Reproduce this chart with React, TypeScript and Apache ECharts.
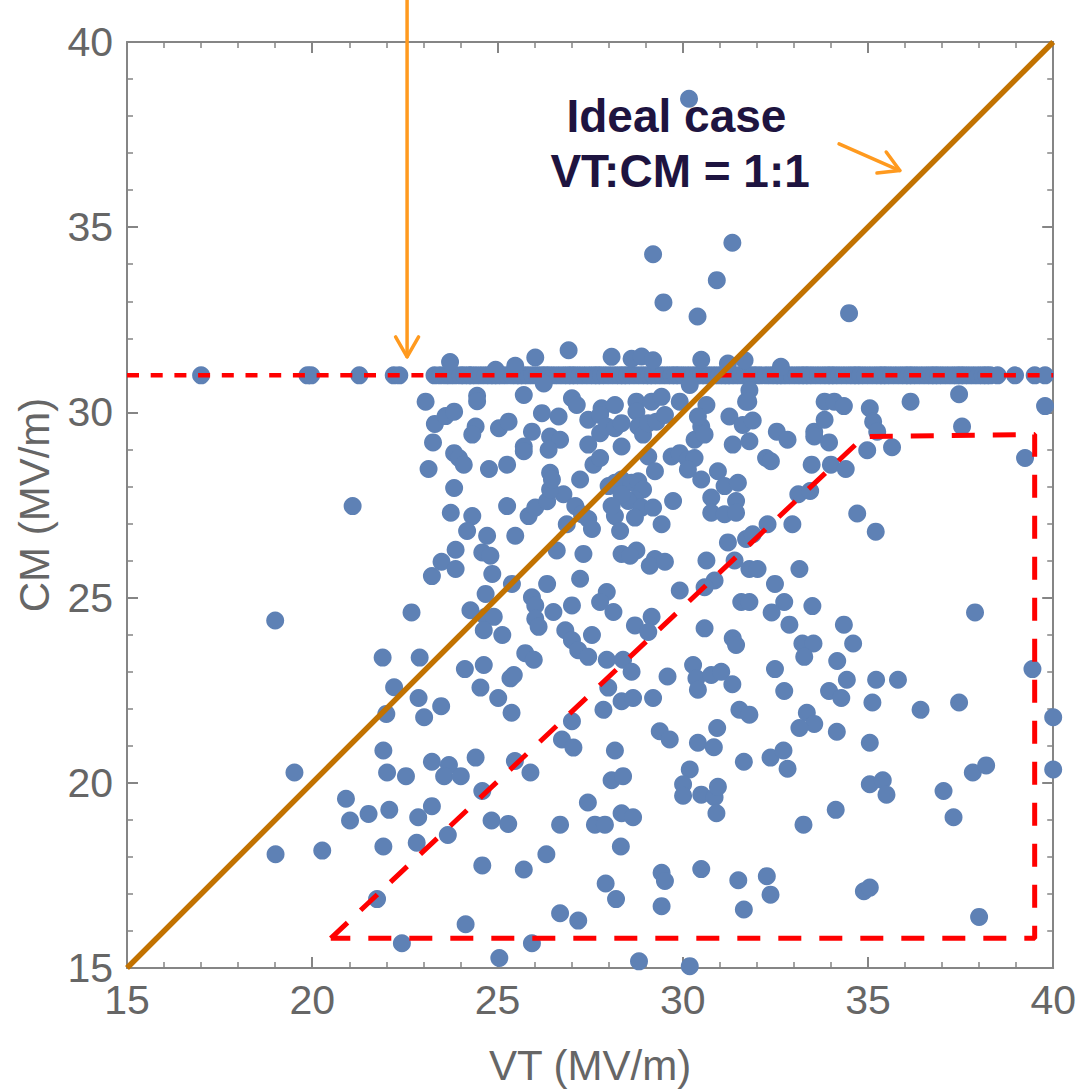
import React, { useEffect, useRef } from "react";
import * as echarts from "echarts";

// ---------- data (VT, CM in MV/m) ----------
const CAP_CM = 31;
// points sitting on the CM = 31 cap (isolated ones on the left, then the dense band)
const capIsolatedVT = [17.0, 19.87, 19.97, 21.27, 22.2, 22.35];
const capBandVT = [
  23.3, 23.45, 23.6, 23.72, 23.85, 24.0, 24.1, 24.22, 24.3, 24.42, 24.55, 24.68, 24.8, 24.9,
  25.0, 25.12, 25.25, 25.38, 25.5, 25.6, 25.7, 25.82, 25.95, 26.08, 26.2, 26.3, 26.4, 26.52,
  26.65, 26.78, 26.9, 27.0, 27.1, 27.22, 27.35, 27.48, 27.6, 27.7, 27.8, 27.92, 28.05, 28.18,
  28.3, 28.4, 28.5, 28.62, 28.75, 28.88, 29.0, 29.1, 29.2, 29.32, 29.45, 29.58, 29.7, 29.8,
  29.9, 30.02, 30.15, 30.28, 30.4, 30.5, 30.6, 30.72, 30.85, 30.98, 31.1, 31.2, 31.3, 31.42,
  31.55, 31.68, 31.8, 31.9, 32.0, 32.12, 32.25, 32.38, 32.5, 32.6, 32.7, 32.82, 32.95, 33.08,
  33.2, 33.3, 33.4, 33.52, 33.65, 33.78, 33.9, 34.0, 34.1, 34.22, 34.35, 34.48, 34.6, 34.7,
  34.8, 34.92, 35.05, 35.18, 35.3, 35.4, 35.5, 35.62, 35.75, 35.88, 36.0, 36.1, 36.2, 36.32,
  36.45, 36.58, 36.7, 36.8, 36.9, 37.02, 37.15, 37.28, 37.4, 37.5, 37.6, 37.72, 37.85, 37.98,
  38.1, 38.2, 38.3, 38.5, 38.97, 39.5, 39.78,
];
const upperPoints = [
  [30.17, 38.47], [29.2, 34.27], [31.34, 34.58], [29.48, 32.97], [30.92, 33.57], [30.4, 32.59],
  [34.49, 32.68],
];
const aboveCapPoints = [
  [23.72, 31.36], [24.95, 31.15], [25.48, 31.26], [26.02, 31.48], [26.92, 31.68], [28.08, 31.5],
  [28.62, 31.45], [28.89, 31.51], [29.2, 31.41], [30.5, 31.42], [31.22, 31.32], [31.67, 31.41],
  [32.65, 31.23],
];
const leftPoints = [
  [23.06, 30.29], [23.31, 29.69], [23.6, 29.9], [23.83, 30.02], [23.26, 29.19], [23.83, 28.9],
  [23.14, 28.47], [23.83, 27.96], [23.74, 27.29], [21.09, 27.47], [23.49, 25.97], [23.23, 25.58],
  [23.87, 25.77], [23.87, 26.29], [22.68, 24.6], [19.0, 24.38],
  [21.9, 23.38], [22.9, 23.38], [22.21, 22.58], [22.87, 22.29], [23.48, 22.07], [22.0, 21.86],
  [23.02, 21.77], [21.92, 20.87], [19.52, 20.28], [22.02, 20.28], [22.53, 20.18], [23.23, 20.57],
  [23.69, 20.48], [23.56, 20.18], [20.91, 19.57], [21.02, 18.98], [21.52, 19.16], [22.08, 19.27],
  [22.86, 19.07], [23.23, 19.37], [19.01, 18.07], [20.27, 18.17], [21.92, 18.28], [22.82, 18.38],
  [23.66, 18.59], [21.75, 16.86], [22.42, 15.67],
];
const centerUpperPoints = [
  [24.45, 30.45], [24.45, 30.3], [25.71, 30.47], [26.25, 30.78], [27.01, 30.38], [27.14, 30.2],
  [27.81, 30.11], [28.17, 30.2], [28.75, 30.29], [28.75, 30.02], [29.16, 30.29], [29.43, 30.42],
  [29.92, 30.29], [30.64, 30.2], [31.26, 29.89], [31.71, 30.29], [30.19, 30.74], [31.8, 30.6],
  [24.41, 29.62], [24.32, 29.4], [25.04, 29.57], [25.3, 29.75], [25.93, 29.48], [26.2, 29.98],
  [26.65, 29.89], [26.42, 29.35], [26.69, 29.26], [26.38, 28.99], [25.71, 29.08], [25.71, 28.95],
  [23.96, 28.77], [24.09, 28.59], [24.77, 28.47], [25.26, 28.59],
  [27.45, 29.8], [27.77, 29.93], [27.77, 29.44], [27.95, 29.62], [28.17, 29.57], [28.35, 29.71],
  [28.35, 29.08], [27.45, 29.13], [27.59, 28.59], [27.77, 28.77],
  [28.8, 29.62], [28.93, 29.4], [29.07, 29.71], [29.29, 29.75], [29.52, 29.93], [29.07, 28.81],
  [29.25, 28.41], [29.7, 28.81], [29.92, 28.9], [30.14, 28.73], [30.32, 28.77], [30.14, 28.46],
  [30.5, 28.19], [30.32, 29.26], [30.5, 29.62], [30.59, 29.4], [30.41, 29.89],
  [31.35, 29.13], [31.8, 29.22], [30.95, 28.41], [31.13, 28.01], [31.49, 28.1], [30.77, 27.7],
  [30.77, 27.29], [31.13, 27.25], [31.44, 27.61], [31.44, 27.29],
  [24.32, 27.2], [25.26, 27.47], [25.84, 27.2], [26.02, 27.43], [26.34, 27.6], [26.78, 27.79],
  [26.42, 27.92], [26.42, 28.37], [26.47, 28.19], [27.23, 28.19],
  [27.1, 27.47], [27.28, 27.25], [26.87, 26.98], [27.45, 27.12], [27.55, 26.85],
  [28.0, 28.01], [28.17, 28.1], [28.35, 28.19], [28.62, 28.1], [28.8, 28.14], [28.93, 27.92],
  [28.71, 27.65], [28.53, 27.61], [28.35, 27.79], [28.89, 27.43], [28.71, 27.16], [28.17, 27.2],
  [28.08, 27.47], [28.31, 26.8], [29.2, 27.43], [29.43, 26.98], [29.74, 27.61],
  [24.18, 26.8], [24.72, 26.67], [24.59, 26.22], [24.81, 26.13], [24.86, 25.64], [25.48, 26.67],
  [26.6, 26.27], [27.32, 26.18], [27.23, 25.51], [26.34, 25.37], [25.39, 25.37], [24.68, 25.1],
  [24.27, 24.66], [24.68, 24.48], [24.9, 24.48], [24.63, 24.12], [25.13, 23.99],
  [25.93, 25.01], [26.02, 24.79], [26.02, 24.43], [26.11, 24.21], [26.51, 24.61], [27.01, 24.79],
  [26.83, 24.12], [27.01, 23.85], [27.55, 23.99],
  [27.95, 25.15], [27.77, 24.88], [28.13, 24.61], [28.71, 24.25], [29.16, 24.48], [29.07, 24.07],
  [29.25, 26.04], [29.11, 25.86], [29.52, 25.97], [28.75, 26.27], [28.35, 26.18], [28.58, 26.13],
  [29.92, 25.19], [30.64, 26.0], [30.86, 25.46], [30.59, 25.28], [30.59, 24.17], [31.35, 23.9],
  [31.44, 23.72], [31.4, 26.0], [31.22, 26.49], [31.71, 26.58], [31.89, 26.71], [31.8, 25.77],
  [31.58, 24.88], [31.8, 24.88],
];
const centerLowerPoints = [
  [27.18, 23.58], [27.45, 23.4], [27.95, 23.32], [28.39, 23.32], [28.62, 23.0], [25.75, 23.5],
  [25.98, 23.32],
  [24.12, 23.07], [24.63, 23.18], [24.54, 22.57], [25.02, 22.29], [25.35, 22.82], [25.44, 22.91],
  [25.38, 21.89], [27.99, 22.57], [27.86, 21.97], [28.35, 22.2], [28.66, 22.29], [29.2, 22.29],
  [29.59, 22.87], [30.28, 23.18], [30.37, 22.82], [30.41, 22.51], [30.77, 22.91], [31.04, 23.0],
  [31.34, 22.66], [31.53, 21.97], [31.8, 21.84],
  [27.01, 21.66], [26.74, 21.17], [27.05, 20.95], [28.17, 20.87], [29.38, 21.39], [29.65, 21.17],
  [30.41, 21.08], [30.84, 20.96], [30.93, 21.48], [31.65, 20.57],
  [24.01, 20.18], [24.41, 20.68], [25.47, 20.59], [25.89, 20.28], [24.59, 19.78], [28.08, 20.07],
  [28.39, 20.18], [27.44, 19.47], [30.19, 20.36], [30.01, 19.96], [30.01, 19.65], [30.5, 19.68],
  [30.86, 19.61], [30.95, 19.89], [30.91, 19.18],
  [24.84, 18.98], [25.29, 18.89], [26.69, 18.87], [27.63, 18.87], [27.9, 18.87], [28.35, 19.18],
  [28.66, 19.07], [28.33, 18.28],
  [24.59, 17.77], [25.71, 17.66], [26.32, 18.07], [27.92, 17.28], [28.2, 16.86], [29.43, 17.57],
  [29.52, 17.35], [29.43, 16.67], [30.5, 17.67], [31.5, 17.37], [31.65, 16.58],
  [26.69, 16.48], [27.18, 16.28], [24.14, 16.18], [25.93, 15.67], [25.05, 15.27], [28.82, 15.18],
  [30.19, 15.05],
];
const rightUpperPoints = [
  [31.77, 30.29], [33.83, 30.29], [34.09, 30.29], [34.35, 30.17], [35.05, 30.11], [35.14, 29.75],
  [35.25, 29.48], [36.15, 30.29], [37.46, 30.49], [37.54, 29.62], [39.78, 30.17],
  [31.62, 29.66], [31.89, 29.78], [32.54, 29.48], [32.83, 29.26], [33.55, 29.48], [33.55, 29.35],
  [33.83, 29.8], [33.95, 29.19], [34.98, 28.98], [35.65, 29.06], [39.24, 28.77],
  [32.25, 28.77], [32.38, 28.68], [33.48, 28.59], [34.0, 28.59], [34.4, 28.47],
  [33.12, 27.79], [33.44, 27.88], [32.29, 26.98], [32.96, 26.98], [34.71, 27.27], [35.21, 26.78],
  [32.02, 25.77], [33.15, 25.77], [32.49, 25.37], [32.74, 24.88], [32.4, 24.6], [33.5, 24.77],
  [32.88, 24.27], [34.35, 24.27], [37.89, 24.6],
];
const rightLowerPoints = [
  [33.23, 23.76], [33.53, 23.76], [33.28, 23.4], [34.6, 23.76], [34.17, 23.29], [32.49, 23.07],
  [32.74, 22.48], [33.95, 22.48], [34.28, 22.29], [34.43, 22.78], [35.22, 22.78], [35.81, 22.78],
  [35.12, 22.17], [36.42, 21.97], [37.46, 22.17],
  [33.35, 21.89], [33.55, 21.59], [33.15, 21.48], [34.16, 21.38], [35.05, 21.08],
  [32.37, 20.68], [32.72, 20.87], [32.83, 20.38], [35.05, 19.96], [35.4, 20.07], [35.5, 19.68],
  [37.04, 19.78], [37.31, 19.07], [37.83, 20.28], [38.19, 20.47], [34.13, 19.27], [33.26, 18.87],
  [39.44, 23.07], [40.0, 21.77], [40.0, 20.36],
  [32.27, 17.48], [32.37, 16.98], [34.89, 17.07], [35.05, 17.17], [38.0, 16.38],
];

// reference lines
const idealLine = [[15, 15], [40, 40]];
const capLine = [[15, CAP_CM], [40, CAP_CM]];
const regionOutline = [[20.5, 15.8], [34.9, 29.35], [39.5, 29.4], [39.5, 15.8], [20.5, 15.8]];

// axis ticks
const AXIS_MIN = 15;
const AXIS_MAX = 40;
const AXIS_STEP = 5;

// annotations (data units)
const labelLine1 = { text: "Ideal case", at: [29.83, 38.0] };
const labelLine2 = { text: "VT:CM = 1:1", at: [29.93, 36.53] };
const arrowCap = { from: [22.56, 41.2], to: [22.56, 31.5] };
const arrowIdeal = { from: [34.22, 37.25], to: [35.86, 36.53] };

const FONT = "'Liberation Sans', Arial, Helvetica, sans-serif";
const FRAME = "#858585";
const LABEL = "#666666";

export default function App() {
  const ref = useRef<HTMLDivElement>(null);

  useEffect(() => {
    if (!ref.current) return;
    document.body.style.overflow = "hidden";
    const chart = echarts.init(ref.current, null, { renderer: "svg" });

    const allPoints = [
      ...capIsolatedVT.map((v) => [v, CAP_CM]),
      ...capBandVT.map((v) => [v, CAP_CM]),
      ...upperPoints,
      ...aboveCapPoints,
      ...leftPoints,
      ...centerUpperPoints,
      ...centerLowerPoints,
      ...rightUpperPoints,
      ...rightLowerPoints,
    ];

    const baseAxis = {
      type: "value" as const,
      min: AXIS_MIN,
      max: AXIS_MAX,
      interval: AXIS_STEP,
      axisLine: { show: true, onZero: false, lineStyle: { color: FRAME, width: 2 } },
      axisTick: { show: true, inside: true, length: 11, lineStyle: { color: FRAME, width: 2 } },
      minorTick: { show: true, splitNumber: 5, length: 6, lineStyle: { color: FRAME, width: 1.5 } },
      splitLine: { show: false },
    };

    chart.setOption({
      animation: false,
      backgroundColor: "#ffffff",
      grid: { left: 127, right: 19.5, top: 42, bottom: 117, containLabel: false },
      xAxis: [
        {
          ...baseAxis,
          position: "bottom",
          axisLabel: { color: LABEL, fontSize: 41, fontFamily: FONT, margin: 11 },
          name: "VT (MV/m)",
          nameLocation: "middle",
          nameGap: 76,
          nameTextStyle: { color: LABEL, fontSize: 42, fontFamily: FONT },
        },
        { ...baseAxis, position: "top", axisLabel: { show: false } },
      ],
      yAxis: [
        {
          ...baseAxis,
          position: "left",
          axisLabel: { color: LABEL, fontSize: 41, fontFamily: FONT, margin: 14 },
          name: "CM (MV/m)",
          nameLocation: "middle",
          nameGap: 72,
          nameTextStyle: { color: LABEL, fontSize: 42, fontFamily: FONT },
        },
        { ...baseAxis, position: "right", axisLabel: { show: false } },
      ],
      series: [
        {
          type: "scatter",
          data: allPoints,
          symbolSize: 18,
          itemStyle: { color: "#5E81B5", opacity: 1 },
          z: 2,
        },
        {
          type: "line",
          data: capLine,
          symbol: "none",
          lineStyle: { color: "#FF0000", width: 4.5, type: [12, 11.7] },
          z: 3,
        },
        {
          type: "line",
          data: regionOutline,
          symbol: "none",
          lineStyle: { color: "#FF0000", width: 5, type: [23, 18] },
          z: 3,
        },
        {
          type: "line",
          data: idealLine,
          symbol: "none",
          lineStyle: { color: "#C27200", width: 5.5 },
          z: 4,
        },
      ],
    });

    const toPx = (p: number[]) =>
      chart.convertToPixel({ xAxisIndex: 0, yAxisIndex: 0 }, p) as number[];

    const arrowGraphics = (a: { from: number[]; to: number[] }) => {
      const s = toPx(a.from);
      const t = toPx(a.to);
      const dx = t[0] - s[0];
      const dy = t[1] - s[1];
      const len = Math.hypot(dx, dy);
      const ux = dx / len;
      const uy = dy / len;
      const L = 23;
      const ang = (30 * Math.PI) / 180;
      const wing = (sgn: number) => {
        const c = Math.cos(sgn * ang);
        const si = Math.sin(sgn * ang);
        const rx = ux * c - uy * si;
        const ry = ux * si + uy * c;
        return [t[0] - L * rx, t[1] - L * ry];
      };
      const style = { stroke: "#FF9A1F", lineWidth: 3.5, fill: null as any, lineCap: "round", lineJoin: "round" };
      return [
        { type: "line", shape: { x1: s[0], y1: s[1], x2: t[0], y2: t[1] }, style, z: 10 },
        { type: "polyline", shape: { points: [wing(1), t, wing(-1)] }, style, z: 10 },
      ];
    };

    const textGraphic = (l: { text: string; at: number[] }) => {
      const p = toPx(l.at);
      return {
        type: "text",
        x: p[0],
        y: p[1],
        z: 10,
        style: {
          text: l.text,
          fill: "#1E1440",
          font: `bold 46px ${FONT}`,
          textAlign: "center",
          textVerticalAlign: "middle",
          verticalAlign: "middle",
        },
      };
    };

    chart.setOption({
      graphic: [
        ...arrowGraphics(arrowCap),
        ...arrowGraphics(arrowIdeal),
        textGraphic(labelLine1),
        textGraphic(labelLine2),
      ],
    });

    return () => chart.dispose();
  }, []);

  return (
    <div
      ref={ref}
      style={{ position: "absolute", left: 0, top: 0, width: 1079, height: 1091 }}
    />
  );
}
